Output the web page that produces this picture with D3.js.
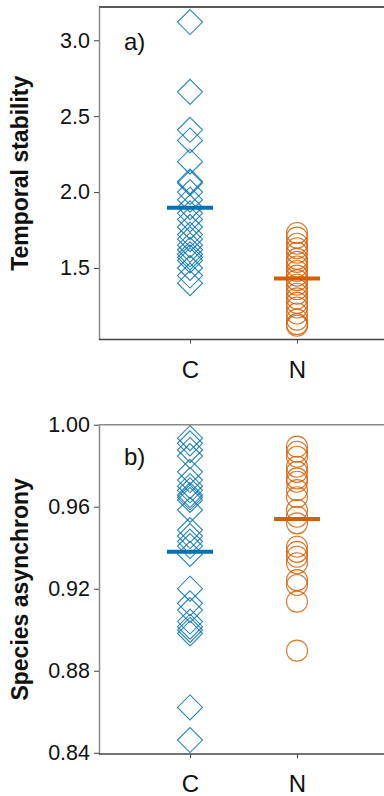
<!DOCTYPE html>
<html>
<head>
<meta charset="utf-8">
<script src="https://cdn.jsdelivr.net/npm/d3@7"></script>
<style>
  body { margin: 0; background: #fff; }
  svg { display: block; font-family: "Liberation Sans", Arial, sans-serif; }
</style>
</head>
<body>
<div id="chart"></div>
<script>
// categories
var groups = ["C", "N"];

// panel a: temporal stability
var stabC = [3.12, 2.66, 2.41, 2.34, 2.20, 2.07, 2.06, 2.00, 1.95, 1.90, 1.86, 1.82,
  1.77, 1.72, 1.69, 1.65, 1.62, 1.59, 1.57, 1.55, 1.50, 1.45, 1.40];
var stabN = [1.73, 1.70, 1.66, 1.63, 1.60, 1.56, 1.54, 1.51, 1.48, 1.45, 1.42, 1.39,
  1.36, 1.33, 1.30, 1.27, 1.24, 1.20, 1.16, 1.13, 1.12];
var stabMean = [1.897, 1.43];
var stabTicks = [1.5, 2.0, 2.5, 3.0];

// panel b: species asynchrony
var asynC = [0.9934, 0.9909, 0.9877, 0.9847, 0.977, 0.973, 0.970, 0.968, 0.9657, 0.9646,
  0.9633, 0.9584, 0.9486, 0.9457, 0.943, 0.9408, 0.937, 0.920, 0.9129, 0.9096, 0.904,
  0.9015, 0.8999, 0.8982, 0.8621, 0.8462];
var asynN = [0.9893, 0.9868, 0.9844, 0.9795, 0.977, 0.9738, 0.9722, 0.9681, 0.9646,
  0.9584, 0.9551, 0.9519, 0.9405, 0.938, 0.9356, 0.9324, 0.9242, 0.9218, 0.9137, 0.8898];
var asynMean = [0.938, 0.954];
var asynTicks = [0.84, 0.88, 0.92, 0.96, 1.00];

var W = 384, H = 796;
var blue = "#0072B2", orange = "#D55E00";
var font = "Liberation Sans, Arial, sans-serif";

var svg = d3.select("#chart").append("svg")
  .attr("width", W)
  .attr("height", H);

var x = d3.scalePoint().domain(groups).range([190, 297]);

function panel(opts) {
  var y = d3.scaleLinear().domain(opts.domain).range([opts.bottom, opts.top]);
  var g = svg.append("g");

  // top border
  g.append("line")
    .attr("x1", 99).attr("x2", W)
    .attr("y1", opts.top).attr("y2", opts.top)
    .attr("stroke", opts.topColor).attr("stroke-width", 1.5);

  // y axis
  var ya = g.append("g")
    .attr("transform", "translate(99,0)")
    .call(d3.axisLeft(y).tickValues(opts.ticks).tickFormat(d3.format(opts.fmt)).tickSize(5).tickSizeOuter(0));
  ya.select(".domain").attr("stroke", "#8a8a8a").attr("stroke-width", 1.5);
  ya.selectAll(".tick line").attr("stroke", "#444");
  ya.selectAll(".tick text").attr("font-size", 21.5).attr("fill", "#111")
    .attr("x", -9).attr("font-family", font);

  // x axis
  var xa = g.append("g")
    .attr("transform", "translate(0," + opts.bottom + ")")
    .call(d3.axisBottom(x).tickSize(4).tickSizeOuter(0));
  xa.select(".domain").attr("d", "M99,0H" + W).attr("stroke", "#444").attr("stroke-width", 1.5);
  xa.selectAll(".tick line").attr("stroke", "#444");
  xa.selectAll(".tick text").attr("font-size", 24).attr("fill", "#111")
    .attr("y", 21).attr("font-family", font);

  // y title
  g.append("text")
    .attr("transform", "translate(28," + ((opts.top + opts.bottom) / 2) + ") rotate(-90)")
    .attr("text-anchor", "middle")
    .attr("font-size", 23).attr("font-weight", "bold").attr("fill", "#111")
    .text(opts.title);

  // panel letter
  g.append("text")
    .attr("x", 124).attr("y", opts.letterY)
    .attr("font-size", 24).attr("fill", "#111")
    .text(opts.letter);

  // diamonds for C
  g.selectAll(".dia")
    .data(opts.c)
    .enter().append("path")
    .attr("d", function (d) {
      var cx = x("C"), cy = y(d), r = 12.5;
      return "M" + cx + "," + (cy - r) + "L" + (cx + r) + "," + cy + "L" + cx + "," + (cy + r) + "L" + (cx - r) + "," + cy + "Z";
    })
    .attr("fill", "none").attr("stroke", blue).attr("stroke-width", 1.1).attr("stroke-opacity", 0.85);

  // circles for N
  g.selectAll(".circ")
    .data(opts.n)
    .enter().append("circle")
    .attr("cx", x("N")).attr("cy", function (d) { return y(d); })
    .attr("r", 10.5)
    .attr("fill", "none").attr("stroke", orange).attr("stroke-width", 1.1).attr("stroke-opacity", 0.85);

  // mean lines
  g.selectAll(".mean")
    .data(opts.mean)
    .enter().append("line")
    .attr("x1", function (d, i) { return x(groups[i]) - 23; })
    .attr("x2", function (d, i) { return x(groups[i]) + 23; })
    .attr("y1", function (d) { return y(d); })
    .attr("y2", function (d) { return y(d); })
    .attr("stroke", function (d, i) { return i == 0 ? blue : orange; })
    .attr("stroke-width", 4);
}

panel({
  top: 7, bottom: 339.5, domain: [1.029, 3.219], ticks: stabTicks, fmt: ".1f",
  c: stabC, n: stabN, mean: stabMean, topColor: "#222",
  title: "Temporal stability", letter: "a)", letterY: 50
});

panel({
  top: 424.7, bottom: 754, domain: [0.8394, 1.0], ticks: asynTicks, fmt: ".2f",
  c: asynC, n: asynN, mean: asynMean, topColor: "#8a8a8a",
  title: "Species asynchrony", letter: "b)", letterY: 465
});
</script>
</body>
</html>
